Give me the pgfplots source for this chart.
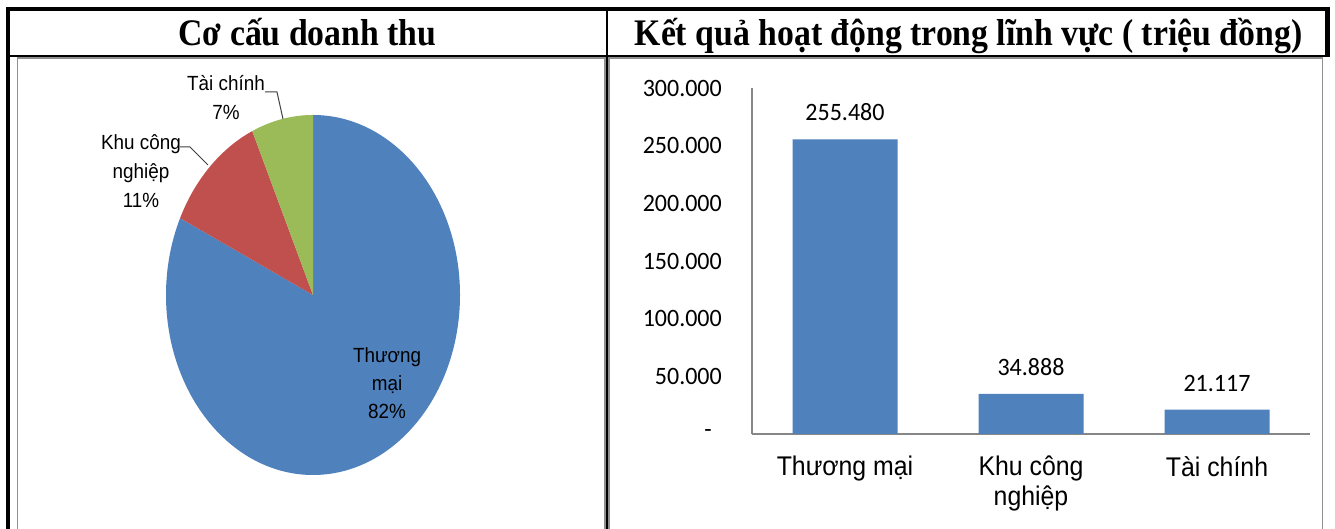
\documentclass[border=0pt]{standalone}
\usepackage{pgfplots}
\usepackage{pgfplotstable}
\pgfplotsset{compat=1.18}
\usepackage{fontspec}
\setmainfont{Liberation Serif}
\newfontfamily\headf[FakeStretch=0.9]{Liberation Serif}
\newfontfamily\arialf[FakeStretch=0.92]{Liberation Sans}
\newfontfamily\calf[FakeStretch=0.96]{Carlito}
\definecolor{cblue}{HTML}{4F81BD}
\definecolor{cred}{HTML}{C0504D}
\definecolor{cgreen}{HTML}{9BBB59}
\definecolor{framegray}{HTML}{8F8F8F}
\definecolor{axisgray}{HTML}{878787}

% values in million VND (thousands shown with dot separators)
\pgfplotstableread{
x y lab
0 255480 255.480
1 34888 34.888
2 21117 21.117
}\bardata

\begin{document}
\begin{tikzpicture}[x=1pt,y=1pt]
\path[use as bounding box, fill=white] (0,0) rectangle (1335,529);

% ---- table frame ----
\draw[line width=4.5pt] (8,0) -- (8,522.25);
\draw[line width=4.5pt] (5.75,520) -- (1330,520);
\draw[line width=5pt] (1327.5,522.25) -- (1327.5,472);
\draw[line width=2pt] (8,473) -- (1330,473);
\draw[line width=2pt] (607,0) -- (607,520);
\draw[line width=1.7pt, framegray] (17.5,0) -- (17.5,470.7) -- (605,470.7) -- (605,0);
\draw[line width=1.7pt, framegray] (609,0) -- (609,470.7) -- (1322.5,470.7) -- (1322.5,0);

% ---- headers ----
\node[anchor=base, font=\headf\fontsize{37.5}{44}\selectfont\bfseries] at (307.5,483) {Cơ cấu doanh thu};
\node[anchor=base, font=\headf\fontsize{37.5}{44}\selectfont\bfseries] at (968.5,483) {Kết quả hoạt động trong lĩnh vực ( triệu đồng)};

% ---- pie (data in billions: 255.480, 34.888, 21.117) ----
\pgfmathsetmacro\tot{255.480+34.888+21.117}
\pgfmathsetmacro\aA{90-255.480/\tot*360}
\pgfmathsetmacro\aB{\aA-34.888/\tot*360}
\begin{axis}[at={(313pt,234pt)}, anchor=center, x=1pt, y=1pt,
  xmin=-300, xmax=300, ymin=-230, ymax=230, hide axis, clip=false]
\fill[cblue] (axis cs:0,0) -- ++(90:147pt and 180pt) arc[start angle=90, end angle=\aA, x radius=147pt, y radius=180pt] -- cycle;
\fill[cred] (axis cs:0,0) -- ++(\aA:147pt and 180pt) arc[start angle=\aA, end angle=\aB, x radius=147pt, y radius=180pt] -- cycle;
\fill[cgreen] (axis cs:0,0) -- ++(\aB:147pt and 180pt) arc[start angle=\aB, end angle=-270, x radius=147pt, y radius=180pt] -- cycle;
\draw[line width=1pt, black!75] (axis cs:-48,203) -- (axis cs:-36,203) -- (axis cs:-30,176);
\draw[line width=1pt, black!75] (axis cs:-133,148) -- (axis cs:-123,148) -- (axis cs:-105,130);
\node[font=\arialf\fontsize{20.5}{29}\selectfont, align=center] at (axis cs:-87,197) {Tài chính\\7\%};
\node[font=\arialf\fontsize{20.5}{29}\selectfont, align=center] at (axis cs:-172,124) {Khu công\\nghiệp\\11\%};
\node[font=\arialf\fontsize{20.5}{28}\selectfont, align=center] at (axis cs:74,-88) {Thương\\mại\\82\%};
\end{axis}

% ---- bar chart ----
\begin{axis}[at={(752pt,95pt)}, anchor=south west, scale only axis,
  width=558pt, height=346pt,
  xmin=-0.5, xmax=2.5, ymin=0, ymax=300000,
  axis x line=bottom, axis y line=left,
  axis line style={draw=axisgray, line width=1.3pt, -},
  major tick length=0pt,
  xtick={0,1,2},
  xticklabels={Thương mại, {Khu công\\nghiệp}, Tài chính},
  xticklabel style={align=center, anchor=north, inner sep=0pt, yshift=-22pt,
    font=\arialf\fontsize{27}{30}\selectfont},
  ytick={0,50000,100000,150000,200000,250000,300000},
  yticklabels={{-\hspace*{10pt}},50.000,100.000,150.000,200.000,250.000,300.000},
  yticklabel style={anchor=east, inner sep=0pt, xshift=-30pt,
    font=\calf\fontsize{25}{28}\selectfont},
  scaled y ticks=false,
  ybar, bar width=105pt,
  nodes near coords, point meta=explicit symbolic,
  every node near coord/.append style={anchor=south, inner sep=0pt, yshift=18pt,
    font=\calf\fontsize{25}{28}\selectfont, black},
  clip=false]
\addplot[fill=cblue, draw=none] table[x=x, y=y, meta=lab] {\bardata};
\end{axis}
\end{tikzpicture}
\end{document}
